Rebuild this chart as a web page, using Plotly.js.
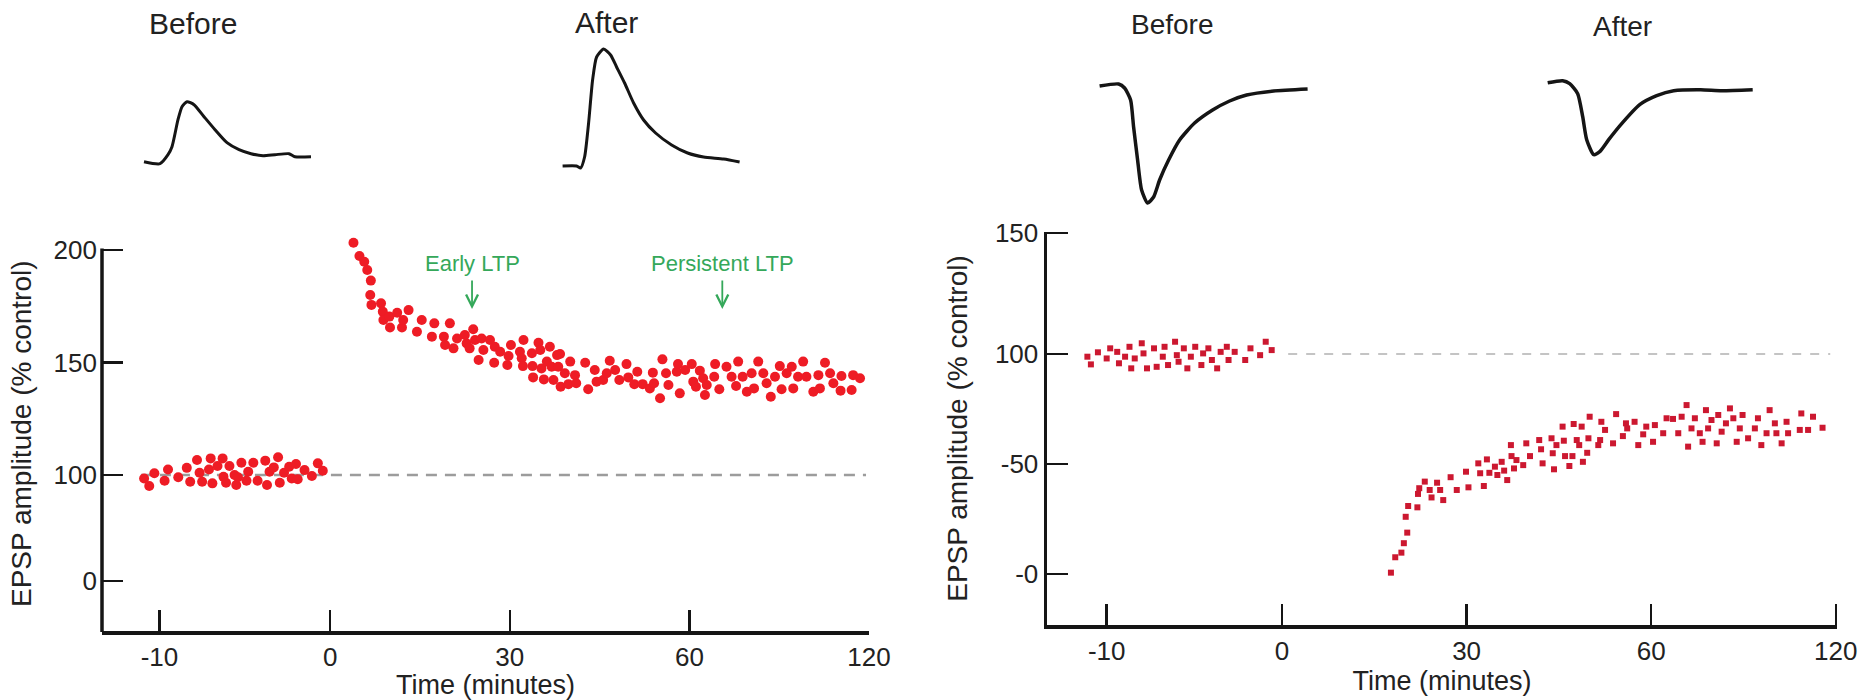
<!DOCTYPE html>
<html>
<head>
<meta charset="utf-8">
<script src="https://cdn.plot.ly/plotly-3.0.1.min.js"></script>
<style>html,body{margin:0;padding:0;background:#fff;}#chart{width:1874px;height:700px;}</style>
</head>
<body>
<div id="chart"></div>
<script>
// ---------------- DATA ----------------
// Time axis labels (broken axis: -10, 0, 30, 60, 120 minutes)
const timeTickMinutes = [-10, 0, 30, 60, 120];
const timeTickLabels = ['-10', '0', '30', '60', '120'];
const ltpAmpTickLabels = ['0', '100', '150', '200'];
const ltdAmpTickLabels = ['-0', '-50', '100', '150'];
const baselineLevel = 100;

// Left panel (LTP): baseline period
const ltpPreTime = [-10.9,-10.6,-10.3,-9.7,-9.5,-8.9,-8.4,-8.2,-7.8,-7.65,-7.5,-7.1,-7.0,-6.9,-6.6,-6.3,-6.25,-6.1,-5.9,-5.6,-5.5,-5.4,-5.2,-4.9,-4.8,-4.5,-4.25,-3.8,-3.7,-3.55,-3.3,-3.05,-2.95,-2.7,-2.4,-2.25,-2.0,-1.9,-1.5,-1.07,-0.72,-0.43];
const ltpPreAmp = [98.5,95.1,100.8,97.5,102.5,99.0,103.2,97.0,106.7,101.0,97.0,102.5,107.4,96.3,104.0,107.4,99.2,96.6,104.0,100.0,95.6,99.0,105.5,97.5,101.5,105.5,97.5,106.4,95.6,101.5,103.4,107.9,96.6,101.0,103.7,98.5,104.9,98.1,102.2,99.6,105.2,101.9];

// Left panel (LTP): after tetanus
const ltpPostTime = [3.9,4.9,5.7,6.2,6.8,6.7,6.9,8.5,8.8,8.9,9.9,10.0,11.2,12.0,12.2,13.1,14.5,15.3,17.0,17.4,19.0,19.2,20.0,20.6,21.2,22.5,22.8,23.3,23.9,24.2,24.8,25.3,25.6,26.7,27.4,27.5,28.4,29.8,29.6,30.2,31.7,32.0,32.2,32.3,33.7,33.8,33.9,34.8,35.1,35.3,35.7,36.2,36.7,37.0,37.3,37.9,38.1,38.5,39.2,38.4,40.1,39.8,40.9,41.1,42.6,43.1,44.2,44.5,45.6,46.2,46.7,47.6,48.3,49.5,49.8,50.8,51.3,52.2,53.4,53.9,54.1,55.1,55.5,56.1,56.5,57.9,58.1,58.4,59.3,60.8,61.3,62.2,63.5,64.6,65.8,65.2,68.6,68.3,70.0,72.4,74.1,75.6,76.3,77.8,79.2,80.8,81.6,83.0,84.7,85.8,87.2,88.6,90.2,90.8,92.5,94.2,94.7,96.3,98.0,99.1,101.4,103.1,103.6,105.3,107.0,108.1,110.8,110.5,114.2,114.7,117.0];
const ltpPostAmp = [203.2,197.3,194.8,191.1,186.4,180.0,175.6,176.3,172.6,168.9,170.4,165.6,172.1,165.6,168.9,173.3,163.7,168.9,161.5,167.4,161.5,157.8,167.4,156.3,160.7,162.2,158.5,156.3,164.8,160.0,151.1,160.7,155.6,160.0,149.9,157.0,154.8,152.9,148.9,157.8,154.8,151.9,148.4,160.0,154.1,148.4,143.4,158.8,155.6,147.4,142.5,150.4,157.0,148.1,142.2,153.3,148.1,139.2,145.2,153.8,150.4,140.4,144.4,140.8,149.9,138.1,146.7,141.5,142.2,145.2,150.8,146.7,142.2,149.3,143.4,140.4,145.9,140.4,138.5,145.5,140.8,134.1,151.4,145.2,140.0,145.9,149.3,136.3,146.7,149.3,141.5,139.2,146.4,143.0,140.0,135.6,149.3,143.7,138.1,148.1,143.7,139.6,150.4,143.7,137.0,145.2,138.5,150.4,145.2,140.8,134.8,143.7,148.4,138.1,145.2,148.1,138.5,143.7,150.4,143.7,137.0,144.4,138.5,149.9,145.2,140.8,144.0,137.5,137.8,144.4,143.0];

// Right panel (LTD): baseline period
const ltdPreTime = [-11.1,-10.9,-10.5,-10.0,-9.8,-9.4,-9.3,-8.95,-8.7,-8.6,-8.4,-8.0,-7.9,-7.7,-7.3,-7.15,-6.8,-6.7,-6.5,-6.1,-6.0,-5.9,-5.6,-5.4,-5.2,-4.95,-4.6,-4.5,-4.2,-4.0,-3.7,-3.5,-3.15,-3.05,-2.7,-2.1,-1.8,-1.25,-0.93,-0.59];
const ltdPreAmp = [98.8,95.3,100.8,98.0,102.6,101.0,95.8,98.8,103.3,93.5,98.0,104.9,100.3,93.5,102.6,94.2,98.8,103.3,95.0,105.6,99.5,96.5,102.6,93.5,98.8,103.3,95.0,100.3,102.6,97.3,93.5,101.0,103.3,97.3,101.0,97.3,102.6,99.5,105.6,101.8];

// Right panel (LTD): after low-frequency stimulation
const ltdPostTime = [17.7,18.4,19.4,19.8,20.35,20.1,20.5,22.0,22.1,22.3,23.2,24.0,24.3,25.2,25.7,26.2,27.4,28.4,29.9,30.3,31.9,32.2,32.8,33.3,33.7,34.6,35.0,35.7,36.1,36.6,37.2,37.3,37.7,38.1,39.2,39.7,40.3,41.8,42.1,42.35,43.8,44.0,44.2,44.6,45.6,45.8,46.0,46.7,47.2,47.4,47.9,48.3,48.7,48.9,49.6,49.8,50.0,51.4,51.7,51.9,52.5,53.8,54.3,55.4,55.9,56.1,57.3,57.9,58.7,59.2,60.6,61.2,63.9,65.0,67.1,68.8,69.9,71.5,72.0,73.1,74.2,75.8,76.7,77.8,78.5,79.6,81.3,81.8,82.9,84.3,85.6,86.7,87.8,88.8,89.7,91.5,93.7,94.7,95.8,97.5,98.5,100.2,100.7,102.4,104.0,104.5,108.3,108.8,111.0,112.6,115.7];
const ltdPostAmp = [0.6,7.6,9.7,14.0,18.8,26.0,30.9,30.3,36.4,39.0,42.0,38.2,34.8,41.5,38.2,33.6,44.0,38.2,46.5,39.4,50.3,45.8,40.0,52.1,46.0,48.8,45.0,51.0,47.0,42.7,58.6,53.6,48.0,51.8,49.5,59.4,53.6,60.9,56.7,50.3,61.7,54.9,47.6,58.6,67.0,60.6,53.6,49.1,53.6,68.2,60.9,58.6,67.0,51.0,55.1,61.7,71.5,58.6,60.9,69.2,65.5,59.4,72.7,62.7,68.5,66.2,69.2,58.6,63.5,67.0,60.1,67.7,64.0,70.8,70.5,64.0,71.5,76.8,57.9,66.2,70.8,64.0,60.1,74.5,66.2,70.0,59.4,72.3,64.7,68.5,75.3,70.8,60.1,66.2,72.3,61.7,66.2,70.8,58.6,64.0,74.5,68.5,64.0,59.4,69.2,64.0,65.5,73.0,65.5,71.5,66.5];

// Example EPSP traces (time in ms, relative voltage)
const ltpBeforeMs = [0,1.6,2.4,2.8,3.4,3.8,4.3,5.0,6.0,7.1,8.3,9.5,10.7,11.9,13.1,14.5,15.1,16.7];
const ltpBeforeMv = [0,-0.2,0.7,1.5,4.2,5.5,6.0,5.7,4.5,3.2,1.9,1.2,0.8,0.6,0.7,0.8,0.5,0.5];
const ltpAfterMs = [0,1.4,1.8,2.2,2.6,3.0,3.4,4.1,4.8,5.4,6.2,7.1,8.1,9.3,10.9,12.5,14.1,16.1,17.7];
const ltpAfterMv = [0,0,-0.2,0.9,4.3,8.6,10.9,11.7,11.1,9.9,8.3,6.3,4.6,3.3,2.1,1.3,0.9,0.7,0.4];
const ltdBeforeMs = [0,1.9,2.5,3.1,3.4,3.8,4.2,4.8,5.4,6.0,6.9,8.0,9.5,11.3,13.0,14.7,17.4,20.8];
const ltdBeforeMv = [0,0.2,-0.2,-1.4,-4.1,-7.4,-10.4,-11.7,-11.1,-9.4,-7.4,-5.4,-3.7,-2.4,-1.5,-0.9,-0.5,-0.3];
const ltdAfterMs = [0,1.5,2.2,3.0,3.5,3.9,4.6,5.2,6.1,7.4,9.2,10.9,12.6,15.3,17.4,20.5];
const ltdAfterMv = [0,0.2,-0.1,-1.1,-3.4,-5.7,-7.2,-6.9,-5.7,-4.1,-2.2,-1.3,-0.8,-0.7,-0.8,-0.7];

// ---------------- SCALE HELPERS ----------------
const W = 1874, H = 700;
// broken time axis: -10..0 stretched, 0..60 linear, 60..120 compressed
function timeToAxis(t) {
  if (t <= 0) return t * 2.85;
  if (t <= 60) return t;
  return 60 + (t - 60) / 2;
}
const timeTickVals = timeTickMinutes.map(timeToAxis);
const fx = p => p / W;
const fy = p => 1 - p / H;

function waveAxes(x0, y0, ms, mv) {
  const s = 10;
  const t0 = Math.min(...ms) - 1, t1 = Math.max(...ms) + 1;
  const v0 = Math.min(...mv) - 1, v1 = Math.max(...mv) + 1;
  return {
    x: {domain: [fx(x0 + t0 * s), fx(x0 + t1 * s)], range: [t0, t1], visible: false, fixedrange: true},
    y: {domain: [fy(y0 - v0 * s), fy(y0 - v1 * s)], range: [v0, v1], visible: false, fixedrange: true}
  };
}

const FONT = 'Liberation Sans, Arial, Helvetica, sans-serif';
const INK = '#151515';
const RED_L = '#ee1c25';
const RED_R = '#cc1830';
const GREEN = '#35a85a';

function mainX(domain, range, anchor) {
  return {
    domain, range, anchor, fixedrange: true,
    showline: true, linecolor: INK, linewidth: 4,
    ticks: 'inside', ticklen: 21, tickwidth: 2.5, tickcolor: INK,
    tickmode: 'array', tickvals: timeTickVals, ticktext: timeTickLabels,
    tickfont: {family: FONT, size: 26, color: '#222'},
    showgrid: false, zeroline: false,
    title: {text: 'Time (minutes)', font: {family: FONT, size: 27, color: '#222'}, standoff: 4}
  };
}
function mainY(domain, range, anchor, vals, labels, standoff, showline, labelStandoff) {
  return {
    domain, range, anchor, fixedrange: true,
    showline: showline, linecolor: INK, linewidth: 3.5,
    ticks: 'inside', ticklen: 21, tickwidth: 2.5, tickcolor: INK,
    tickmode: 'array', tickvals: vals, ticktext: labels,
    ticklabelstandoff: labelStandoff,
    tickfont: {family: FONT, size: 26, color: '#222'},
    showgrid: false, zeroline: false,
    title: {text: 'EPSP amplitude (% control)', font: {family: FONT, size: 28, color: '#222'}, standoff: standoff}
  };
}

const wLB = waveAxes(144, 161.7, ltpBeforeMs, ltpBeforeMv);
const wLA = waveAxes(562.6, 166, ltpAfterMs, ltpAfterMv);
const wRB = waveAxes(1099.6, 86, ltdBeforeMs, ltdBeforeMv);
const wRA = waveAxes(1547.7, 82.7, ltdAfterMs, ltdAfterMv);

const traces = [
  {type: 'scatter', mode: 'markers', x: ltpPreTime.map(timeToAxis), y: ltpPreAmp, xaxis: 'x', yaxis: 'y',
   marker: {color: RED_L, size: 10}, cliponaxis: false, hoverinfo: 'skip'},
  {type: 'scatter', mode: 'markers', x: ltpPostTime.map(timeToAxis), y: ltpPostAmp, xaxis: 'x', yaxis: 'y',
   marker: {color: RED_L, size: 10}, cliponaxis: false, hoverinfo: 'skip'},
  {type: 'scatter', mode: 'markers', x: ltdPreTime.map(timeToAxis), y: ltdPreAmp, xaxis: 'x2', yaxis: 'y2',
   marker: {color: RED_R, size: 6, symbol: 'square'}, cliponaxis: false, hoverinfo: 'skip'},
  {type: 'scatter', mode: 'markers', x: ltdPostTime.map(timeToAxis), y: ltdPostAmp, xaxis: 'x2', yaxis: 'y2',
   marker: {color: RED_R, size: 6, symbol: 'square'}, cliponaxis: false, hoverinfo: 'skip'},
  {type: 'scatter', mode: 'lines', x: ltpBeforeMs, y: ltpBeforeMv, xaxis: 'x3', yaxis: 'y3',
   line: {color: INK, width: 3, shape: 'spline', smoothing: 0.6}, cliponaxis: false, hoverinfo: 'skip'},
  {type: 'scatter', mode: 'lines', x: ltpAfterMs, y: ltpAfterMv, xaxis: 'x4', yaxis: 'y4',
   line: {color: INK, width: 3, shape: 'spline', smoothing: 0.6}, cliponaxis: false, hoverinfo: 'skip'},
  {type: 'scatter', mode: 'lines', x: ltdBeforeMs, y: ltdBeforeMv, xaxis: 'x5', yaxis: 'y5',
   line: {color: INK, width: 3.5, shape: 'spline', smoothing: 0.6}, cliponaxis: false, hoverinfo: 'skip'},
  {type: 'scatter', mode: 'lines', x: ltdAfterMs, y: ltdAfterMv, xaxis: 'x6', yaxis: 'y6',
   line: {color: INK, width: 3.5, shape: 'spline', smoothing: 0.6}, cliponaxis: false, hoverinfo: 'skip'}
];

// left panel: y range extends a little above the 200 tick so the first post-tetanus point shows;
// the visible y-axis line itself stops at the 200 tick (drawn as a paper shape)
const leftYTop = 206;
const leftYTopPx = 475 - (leftYTop - 100) * 2.25;

const layout = {
  width: W, height: H,
  margin: {l: 0, r: 0, t: 0, b: 0},
  paper_bgcolor: '#fff', plot_bgcolor: 'rgba(0,0,0,0)',
  showlegend: false,
  font: {family: FONT, color: '#222'},
  xaxis: mainX([fx(102), fx(869)], [-38.1, 90], 'y'),
  yaxis: mainY([fy(631), fy(leftYTopPx)], [30.7, leftYTop], 'x', [52.9, 100, 150, 200], ltpAmpTickLabels, 13, false, 4),
  xaxis2: mainX([fx(1047), fx(1837)], [-38.2, 90.2], 'y2'),
  yaxis2: mainY([fy(625), fy(232)], [-23.2, 155.5], 'x2', [0, 50, 100, 155], ltdAmpTickLabels, 20, true, 0),
  xaxis3: Object.assign({anchor: 'y3'}, wLB.x), yaxis3: Object.assign({anchor: 'x3'}, wLB.y),
  xaxis4: Object.assign({anchor: 'y4'}, wLA.x), yaxis4: Object.assign({anchor: 'x4'}, wLA.y),
  xaxis5: Object.assign({anchor: 'y5'}, wRB.x), yaxis5: Object.assign({anchor: 'x5'}, wRB.y),
  xaxis6: Object.assign({anchor: 'y6'}, wRA.x), yaxis6: Object.assign({anchor: 'x6'}, wRA.y),
  shapes: [
    {type: 'line', xref: 'paper', yref: 'paper', layer: 'above', x0: fx(102), x1: fx(102), y0: fy(632), y1: fy(248.5),
     line: {color: INK, width: 3.5}},
    {type: 'line', xref: 'x', yref: 'y', layer: 'below', x0: -31.6, x1: 89.5, y0: baselineLevel, y1: baselineLevel,
     line: {color: '#9c9c9c', width: 2.5, dash: '11px,8px'}},
    {type: 'line', xref: 'x2', yref: 'y2', layer: 'below', x0: 1, x1: 89.1, y0: baselineLevel, y1: baselineLevel,
     line: {color: '#c4c4c4', width: 2, dash: '9px,9px'}}
  ],
  annotations: [
    {xref: 'paper', yref: 'paper', x: fx(192.8), y: fy(23.5), text: 'Before', showarrow: false,
     font: {family: FONT, size: 30, color: '#222'}, xanchor: 'center', yanchor: 'middle'},
    {xref: 'paper', yref: 'paper', x: fx(606), y: fy(22.5), text: 'After', showarrow: false,
     font: {family: FONT, size: 30, color: '#222'}, xanchor: 'center', yanchor: 'middle'},
    {xref: 'paper', yref: 'paper', x: fx(1172), y: fy(25), text: 'Before', showarrow: false,
     font: {family: FONT, size: 28, color: '#222'}, xanchor: 'center', yanchor: 'middle'},
    {xref: 'paper', yref: 'paper', x: fx(1622), y: fy(26.7), text: 'After', showarrow: false,
     font: {family: FONT, size: 28, color: '#222'}, xanchor: 'center', yanchor: 'middle'},
    {xref: 'x', yref: 'y', x: timeToAxis(23.7), y: 173.8, text: 'Early LTP', showarrow: true,
     ax: 0, ay: -45.5, arrowhead: 5, arrowsize: 1.3, arrowwidth: 1.8, arrowcolor: GREEN, startstandoff: 3,
     font: {family: FONT, size: 22, color: GREEN}},
    {xref: 'x', yref: 'y', x: timeToAxis(71), y: 173.8, text: 'Persistent LTP', showarrow: true,
     ax: 0, ay: -45.5, arrowhead: 5, arrowsize: 1.3, arrowwidth: 1.8, arrowcolor: GREEN, startstandoff: 3,
     font: {family: FONT, size: 22, color: GREEN}}
  ]
};

Plotly.newPlot('chart', traces, layout, {displayModeBar: false, staticPlot: true});
</script>
</body>
</html>
